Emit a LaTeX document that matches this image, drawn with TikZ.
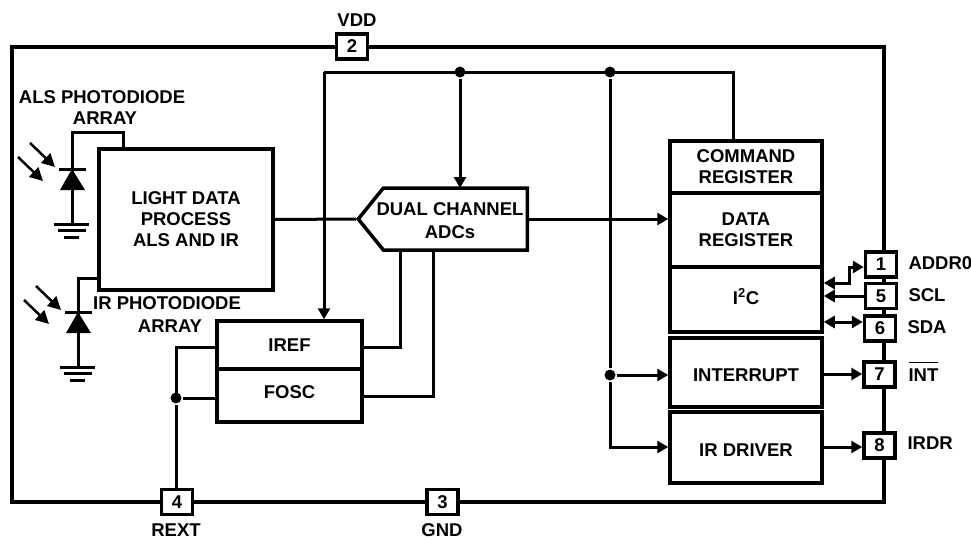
\documentclass[tikz,border=0pt]{standalone}
\usepackage{fontspec}
\setmainfont{Liberation Sans}
\usetikzlibrary{arrows.meta,shapes.symbols}
\begin{document}
\begin{tikzpicture}
[x=1pt,y=-1pt,line width=3pt,line join=miter,%
  font=\fontsize{18.5}{21}\selectfont\bfseries,
  wire/.style={line width=3pt},
  tip/.style={-{Triangle[length=11pt,width=12pt]}},
  bothtip/.style={{Triangle[length=11pt,width=12pt]}-{Triangle[length=11pt,width=12pt]}},
  ray/.style={line width=2.5pt,-{Triangle[length=13pt,width=13pt]}},
  blk/.style={shape=rectangle,draw,line width=3.5pt,fill=white,inner sep=0pt,align=center},
  pin/.style={shape=rectangle,draw,line width=3.5pt,fill=white,inner sep=0pt,minimum width=31pt,minimum height=25pt},
  txt/.style={inner sep=0pt,align=center},
  dot/.style={shape=circle,fill,inner sep=0pt,minimum size=11pt}]
\useasboundingbox (0,0) rectangle (971,539);
\fill[white] (0,0) rectangle (971,539);
\draw[line width=4.5pt] (12,47) rectangle (884,502);
% wires under the blocks
\coordinate (busleft) at (324,72);
\coordinate (busright) at (733,72);
\coordinate (adctop) at (460,188);
\node[dot] (busa) at (460,72) {};
\node[dot] (busb) at (610,72) {};
\node[dot] (busc) at (610,375) {};
\node[dot] (rextdot) at (176,398) {};
% blocks
\node[blk,minimum width=174pt,minimum height=141pt] (light) at (186,219.5) {LIGHT DATA\\PROCESS\\ALS AND IR};
\node[blk,shape=signal,signal to=west,signal from=nowhere,signal pointer angle=102,
  minimum width=169pt,minimum height=62pt,anchor=west] (adc) at (356,219) {};
\node[txt] (adctext) at (450,220.5) {DUAL CHANNEL\\[2pt]ADCs};
\node[blk,minimum width=145pt,minimum height=48pt] (iref) at (289.5,345) {IREF};
\node[blk,minimum width=145pt,minimum height=53pt,text depth=6pt] (fosc) at (289.5,395.5) {FOSC};
\node[blk,minimum width=152pt,minimum height=52pt] (cmd) at (746,167) {COMMAND\\REGISTER};
\node[blk,minimum width=152pt,minimum height=74pt] (data) at (746,230) {DATA\\REGISTER};
\node[blk,minimum width=152pt,minimum height=65pt,text depth=6pt] (iic) at (746,299.5) {I\textsuperscript{2}C};
\node[blk,minimum width=152pt,minimum height=69pt,text height=19pt] (intr) at (746,372.5) {INTERRUPT};
\node[blk,minimum width=152pt,minimum height=71pt,text height=17pt] (irdrv) at (746,447.5) {IR DRIVER};
% pins
\foreach \n/\px/\py in {1/881/264.5,5/881/296,6/880/328.5,7/879.5/374.5,8/879.5/445.5,
  2/352/46.5,4/177/502,3/442.5/502}
  \node[pin] (pin\n) at (\px,\py) {\n};
% labels
\node[txt] (vdd) at (357,20) {VDD};
\node[txt] (rext) at (176,530.5) {REXT};
\node[txt] (gnd) at (442,530.5) {GND};
\node[txt,anchor=west] (addr) at (907,263) {ADDR0};
\node[txt,anchor=west] (scl) at (907,295) {SCL};
\node[txt,anchor=west] (sda) at (906,327) {SDA};
\node[txt,anchor=base west] (intn) at (907,381) {$\overline{\hbox{\rule{0pt}{17pt}INT}}$};
\node[txt,anchor=west] (irdr) at (906,443) {IRDR};
\node[txt] (alstext) at (102,108) {ALS PHOTODIODE\\\hspace*{6pt}ARRAY};
\node[txt] (irtext) at (167,314.5) {IR PHOTODIODE\\[2pt]\hspace*{6pt}ARRAY};
% connectors
\draw[wire] (busleft) -- (busright) -- (busright |- cmd.north);
\draw[wire,tip] (busleft) -- (busleft |- iref.north);
\draw[wire,tip] (busa) -- (adctop);
\draw[wire] (busb) -- (busc);
\draw[wire,tip] (busc) -- (busc -| intr.west);
\draw[wire,tip] (busc) -- (610,447) -- (irdrv.west |- 610,447);
\draw[wire] (light.east) -- (adc.west);
\draw[wire,tip] (adc.east |- 0,219) -- (data.west |- 0,219);
\draw[wire] (iref.east |- 0,347) -| (400,250);
\draw[wire] (fosc.east |- 0,396) -| (433,250);
\draw[wire] (iref.west |- 0,347) -| (rextdot.center);
\draw[wire] (fosc.west |- rextdot) -- (rextdot);
\draw[wire] (rextdot) -- (pin4.north -| rextdot);
\draw[wire,bothtip] (iic.east |- 0,283) -| (849,267) -- (pin1.west |- 0,267);
\draw[wire,tip] (pin5.west) -- (iic.east |- pin5.west);
\draw[wire,bothtip] (iic.east |- 0,322) -- (pin6.west |- 0,322);
\draw[wire,tip] (intr.east |- 0,374) -- (pin7.west |- 0,374);
\draw[wire,tip] (irdrv.east |- 0,447) -- (pin8.west |- 0,447);
% photodiodes
\draw[wire] (72,224) -- (72,132) -- (123,132) -- (123,148);
\fill (72,169) -- (60,190) -- (85,190) -- cycle;
\draw[wire] (59,169) -- (86,169);
\draw[wire] (54,224) -- (89,224) (58,230.5) -- (86,230.5) (64,237) -- (79,237);
\draw[ray] (30,143) -- (55,167);
\draw[ray] (18,157) -- (43,181);
\draw[wire] (99,278) -- (78,278) -- (78,367);
\fill (78,312) -- (66,333) -- (91,333) -- cycle;
\draw[wire] (65,312) -- (92,312);
\draw[wire] (60,367) -- (95,367) (64,373.5) -- (92,373.5) (70,380) -- (85,380);
\draw[ray] (36,286) -- (61,310);
\draw[ray] (24,300) -- (49,324);
\end{tikzpicture}
\end{document}
